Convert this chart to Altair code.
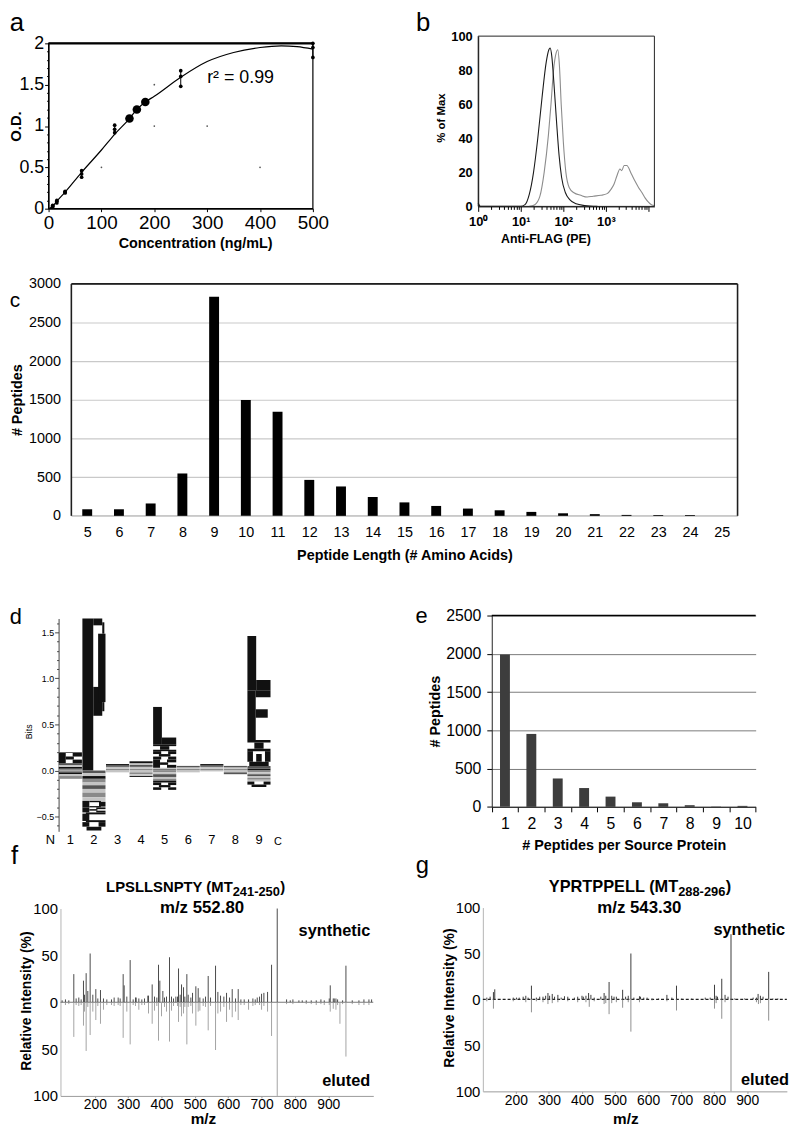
import altair as alt
import numpy as np
import pandas as pd

FONT = "Liberation Sans"
W, H = 792, 1122   # whole figure (page minus the 8px body margin)

# ---------------- data ----------------
# a: ELISA standard curve
a_conc = [7.8, 15.6, 31.25, 62.5, 125, 250, 500]
a_rep1 = [0.02, 0.07, 0.19, 0.38, 0.92, 1.48, 1.83]
a_rep2 = [0.03, 0.09, 0.20, 0.42, 0.96, 1.60, 1.95]
a_rep3 = [0.04, 0.10, 0.21, 0.46, 1.01, 1.67, 2.00]
a_unk_conc = [153, 167, 183]
a_unk_od = [1.09, 1.20, 1.29]
a_fit_conc = [0, 7.8, 15.6, 31.25, 62.5, 100, 125, 153, 167, 183, 200, 250, 300, 350, 400, 440, 470, 500]
a_fit_od = [0.0, 0.03, 0.09, 0.20, 0.44, 0.71, 0.90, 1.09, 1.20, 1.29, 1.36, 1.59, 1.78, 1.89, 1.95, 1.97, 1.96, 1.93]
a_mark_conc = [100, 200, 300, 200, 400]
a_mark_od = [0.5, 1.0, 1.0, 1.5, 0.5]

# b: flow cytometry histograms (x = log10 fluorescence)
b_ctrl_log = [0.0, 0.03, 0.06, 1.0, 1.1, 1.2, 1.3, 1.4, 1.5, 1.6, 1.66, 1.69, 1.73, 1.78, 1.84, 1.9, 1.96, 2.05, 2.15, 2.3, 2.5, 2.8]
b_ctrl_pct = [2, 0.5, 0, 0, 1, 7, 20, 40, 64, 85, 92, 93, 88, 72, 50, 30, 17, 8, 4, 1.5, 0.5, 0]
b_flag_log = [1.2, 1.33, 1.45, 1.55, 1.65, 1.71, 1.77, 1.83, 1.87, 1.91, 1.95, 2.0, 2.06, 2.14, 2.25, 2.41,
              2.56, 2.7, 2.88, 3.03, 3.12, 3.19, 3.26, 3.33, 3.37, 3.43, 3.49, 3.6, 3.68, 3.77, 3.85, 3.92,
              4.0, 4.07, 4.14]
b_flag_pct = [0, 1, 6, 20, 42, 60, 80, 90, 92, 82, 60, 38, 20, 11, 8, 6.5, 5.5, 6, 6.5, 7.5, 10, 13, 18,
              22, 21, 24, 24, 19, 15, 11, 8, 5, 2.5, 1, 0.5]

# c: peptide length distribution
c_length = list(range(5, 26))
c_count = [85, 85, 160, 548, 2835, 1500, 1346, 465, 380, 244, 174, 128, 94, 72, 51, 33, 22, 12, 10, 10, 0]

# d: sequence logo, one list per position (residue, bits, tone), stacked outward from 0
logo_1 = [("#", 0.02, "g"), ("#", 0.02, "k"), ("#", 0.02, "l"), ("#", 0.02, "d"), ("K", 0.11, "k"), ("#", 0.01, "d"),
          ("#", -0.02, "g"), ("#", -0.02, "k"), ("#", -0.02, "l"), ("#", -0.03, "g")]
logo_2 = [("P", 1.65, "k"),
          ("#", -0.03, "d"), ("#", -0.03, "l"), ("#", -0.03, "k"), ("#", -0.04, "g"), ("#", -0.03, "l"),
          ("#", -0.04, "d"), ("#", -0.04, "l"), ("#", -0.05, "g"), ("#", -0.04, "l"),
          ("D", -0.07, "k"), ("K", -0.055, "k"), ("C", -0.105, "k"), ("V", -0.09, "k")]
logo_3 = [("#", 0.02, "g"), ("#", 0.02, "l"), ("#", 0.015, "d"), ("#", 0.015, "k"), ("#", -0.02, "l")]
logo_4 = [("#", 0.02, "g"), ("#", 0.02, "l"), ("#", 0.02, "d"), ("#", 0.02, "l"), ("#", 0.02, "k"),
          ("#", -0.02, "l"), ("#", -0.02, "g"), ("#", -0.02, "l"), ("#", -0.01, "k")]
logo_5 = [("#", 0.015, "d"), ("#", 0.015, "l"), ("K", 0.09, "k"), ("X", 0.09, "k"), ("I", 0.07, "k"), ("L", 0.41, "k"),
          ("#", -0.02, "g"), ("#", -0.02, "l"), ("#", -0.03, "d"), ("#", -0.02, "l"), ("#", -0.02, "g"),
          ("#", -0.02, "k"), ("X", -0.08, "k")]
logo_6 = [("#", 0.02, "g"), ("#", 0.015, "l"), ("#", 0.015, "d"), ("#", -0.02, "l")]
logo_7 = [("#", 0.02, "g"), ("#", 0.02, "l"), ("#", 0.015, "d"), ("#", 0.015, "k"), ("#", -0.01, "l")]
logo_8 = [("#", 0.02, "g"), ("#", 0.015, "l"), ("#", 0.015, "d"), ("#", -0.02, "l"), ("#", -0.02, "d")]
logo_9 = [("#", 0.02, "k"), ("#", 0.03, "d"), ("W", 0.16, "k"), ("I", 0.12, "k"), ("F", 0.54, "k"), ("L", 0.59, "k"),
          ("#", -0.02, "g"), ("#", -0.02, "l"), ("#", -0.02, "d"), ("#", -0.02, "l"), ("#", -0.02, "g"),
          ("#", -0.02, "l"), ("V", -0.06, "k")]
logo_columns = [logo_1, logo_2, logo_3, logo_4, logo_5, logo_6, logo_7, logo_8, logo_9]
d_tick_pos = [0.15, 1, 2, 3, 4, 5, 6, 7, 8, 9]
d_tick_text = ["N", "1", "2", "3", "4", "5", "6", "7", "8", "9"]
d_c_pos = [9.8]
d_c_text = ["C"]

# e: peptides per source protein
e_per_protein = list(range(1, 11))
e_count = [1990, 953, 371, 246, 134, 60, 47, 22, 4, 13]

# f: LPSLLSNPTY spectra
f_syn_mz = [137, 166, 174, 186, 203, 217, 285, 288, 306, 324, 359, 372, 391, 395, 404, 424, 443, 451, 460, 466,
            476, 493, 503, 510, 540, 562, 569, 595, 612, 630, 687, 700, 707, 718, 730, 747, 906, 915, 923, 953,
            102, 112, 122, 144, 152, 159, 169, 179, 194, 209, 226, 236, 250, 258, 270, 276, 296, 315, 322, 332,
            341, 349, 361, 379, 386, 409, 415, 430, 436, 448, 456, 470, 480, 488, 515, 525, 532, 547, 577, 587,
            604, 622, 638, 648, 661, 674, 681, 694, 775, 786, 794, 812, 822, 834, 849, 864, 878, 888, 903, 918,
            928, 943, 972, 992, 1007, 1022, 1030]
f_syn_int = [30, 23, 31, 52, 14, 13, 30, 18, 45, 5, 7, 19, 40, 23, 12, 48, 6, 36, 19, 16,
             30, 10, 17, 15, 28, 39, 11, 10, 14, 14, 5, 9, 10, 11, 40, 100, 18, 4, 4, 39,
             2, 3, 2, 4, 5, 3, 8, 12, 8, 4, 4, 3, 3, 5, 5, 4, 6, 3, 5, 4,
             3, 4, 7, 6, 5, 5, 6, 6, 4, 6, 8, 6, 8, 5, 5, 4, 6, 5, 7, 6,
             5, 4, 3, 3, 3, 4, 3, 6, 3, 2, 3, 2, 2, 2, 2, 2, 3, 2, 4, 4,
             3, 2, 2, 2, 3, 3, 3]
f_elu_mz = [137, 166, 174, 186, 203, 217, 285, 306, 372, 391, 424, 451, 476, 503, 540, 562, 595, 612, 630, 730,
            747, 935, 953,
            169, 194, 226, 296, 332, 361, 379, 400, 415, 430, 460, 466, 493, 510, 515, 569, 577, 604, 622, 661,
            700, 718, 906, 915, 923,
            112, 122, 144, 152, 159, 179, 209, 236, 250, 258, 270, 276, 315, 322, 341, 349, 386, 409, 436, 448,
            456, 470, 480, 488, 525, 532, 547, 587, 638, 648, 674, 681, 694, 707, 775, 794, 834, 849, 864, 878,
            888, 903, 928, 943, 972, 992, 1007, 1022]
f_elu_int = [-37, -25, -52, -35, -19, -23, -38, -45, -23, -41, -42, -21, -45, -25, -30, -51, -21, -16, -19, -36,
             -100, -23, -58,
             -10, -10, -8, -10, -8, -12, -9, -15, -10, -9, -15, -12, -12, -10, -9, -12, -10, -8, -10, -8,
             -8, -10, -10, -7, -8,
             -3, -2, -3, -4, -3, -5, -4, -3, -3, -4, -3, -4, -3, -4, -3, -3, -4, -5, -4, -4,
             -5, -5, -5, -4, -4, -5, -4, -5, -3, -3, -4, -3, -3, -4, -2, -2, -2, -2, -3, -2,
             -3, -3, -3, -2, -2, -3, -3, -3]

# g: YPRTPPELL spectra
g_syn_mz = [132, 136, 247, 297, 310, 327, 347, 400, 420, 467, 482, 523, 548, 574, 657, 686, 801, 806, 823, 833,
            851, 933, 965,
            112, 122, 192, 202, 210, 222, 230, 237, 262, 272, 282, 290, 302, 317, 337, 357, 377, 387, 404, 412,
            427, 437, 457, 472, 490, 497, 504, 532, 540, 557, 577, 587, 597, 612, 632, 672, 702, 732, 773, 788,
            810, 842, 862, 892, 918, 928, 940, 948, 978, 993]
g_syn_int = [8, 11, 15, 7, 6, 5, 3.5, 4, 7, 7, 19, 10.5, 50, 3.5, 5, 15, 16, 4, 22.5, 5,
             71, 6, 30,
             2, 3, 2, 2, 2, 3, 4, 2, 2, 3, 3, 4, 4, 3, 2, 3, 2, 3, 3, 4,
             5, 2, 3, 4, 4, 3, 3, 3, 4, 2, 3, 2, 2, 1, 1, 2, 1, 1, 2, 2,
             3, 3, 1, 1, 2, 2, 4, 3, 1, 1]
g_elu_mz = [132, 247, 297, 422, 482, 523, 548, 686, 801, 823, 851, 934, 965,
            112, 192, 230, 262, 282, 310, 327, 357, 387, 412, 437, 467, 472, 490, 504, 540, 574, 612, 657, 806,
            833, 928, 940]
g_elu_int = [-10, -14, -5, -8, -16, -9, -35, -12, -10, -21, -100, -5, -23,
             -2, -2, -3, -2, -3, -4, -3, -2, -3, -3, -2, -5, -4, -4, -3, -3, -3, -1, -2, -4,
             -3, -3, -4]

# ---------------- helpers ----------------
MAJOR_HALF = "abs(datum.value*2 - round(datum.value*2)) < 0.001"
MAJOR_INT = "abs(datum.value - round(datum.value)) < 0.001"


def y_axis(x0, values, title, tx, ty, **kw):
    return alt.Axis(orient="left", offset=-x0, values=values, title=title, titleX=tx - x0, titleY=ty,
                    titleAngle=270, titleAlign="center", titleBaseline="middle", **kw)


def x_axis(y0, values, title, tx, ty, **kw):
    return alt.Axis(orient="bottom", offset=y0 - H, values=values, title=title, titleX=tx, titleY=ty - y0,
                    titleAlign="center", titleBaseline="middle", **kw)


def sc(domain, rng):
    return alt.Scale(domain=domain, range=rng, nice=False, zero=False, padding=0)


def note(text, x, y, size, weight="normal", align="center", color="black"):
    return alt.Chart(pd.DataFrame({"t": [text]})).mark_text(
        font=FONT, fontSize=size, fontWeight=weight, align=align, baseline="middle", color=color
    ).encode(x=alt.value(x), y=alt.value(y), text="t:N")


# ---------------- panel a ----------------
xa = sc([0, 500], [41, 308])
ya = sc([0, 2], [197, 30])
a_yvals = [round(v, 1) for v in np.arange(0, 2.001, 0.1)]
AXa = x_axis(197, [0, 100, 200, 300, 400, 500], "Concentration (ng/mL)", 189, 232,
             labelFontSize=19, titleFontSize=14.5, titleFontWeight="bold", tickSize=3, labelPadding=2, format="d")
AYa = y_axis(41, a_yvals, "O.D.", 8, 113.5, labelFontSize=18, titleFontSize=15, titleFontWeight="bold",
             format="~g", labelExpr=f"{MAJOR_HALF} ? datum.label : ''",
             tickSize={"condition": {"test": MAJOR_HALF, "value": 4}, "value": 2}, labelPadding=1)


def enc_a(chart, xf, yf, **extra):
    return chart.encode(x=alt.X(xf, scale=xa, axis=AXa), y=alt.Y(yf, scale=ya, axis=AYa), **extra)


a_fit = enc_a(alt.Chart(pd.DataFrame({"c": a_fit_conc, "od": a_fit_od})).mark_line(
    color="black", strokeWidth=1.2, interpolate="monotone"), "c:Q", "od:Q")
a_err_df = pd.DataFrame({"c": a_conc,
                         "lo": [min(t) for t in zip(a_rep1, a_rep2, a_rep3)],
                         "hi": [max(t) for t in zip(a_rep1, a_rep2, a_rep3)]})
a_err = enc_a(alt.Chart(a_err_df).mark_rule(color="black", strokeWidth=1), "c:Q", "lo:Q", y2="hi:Q")
a_pts = enc_a(alt.Chart(pd.DataFrame({"c": a_conc * 3, "od": a_rep1 + a_rep2 + a_rep3})).mark_point(
    filled=True, color="black", size=14, opacity=1), "c:Q", "od:Q")
a_unk = enc_a(alt.Chart(pd.DataFrame({"c": a_unk_conc, "od": a_unk_od})).mark_point(
    filled=True, color="black", size=75, opacity=1), "c:Q", "od:Q")
a_marks = enc_a(alt.Chart(pd.DataFrame({"c": a_mark_conc, "od": a_mark_od})).mark_point(
    filled=True, color="#555", size=3, opacity=1), "c:Q", "od:Q")
a_frame = enc_a(alt.Chart(pd.DataFrame({"x0": [0], "x1": [500], "y0": [0], "y1": [2]})).mark_rect(
    fillOpacity=0, stroke="black", strokeWidth=1.2), "x0:Q", "y0:Q", x2="x1:Q", y2="y1:Q")
a_top = enc_a(alt.Chart(pd.DataFrame({"x0": [0], "x1": [500], "y0": [2]})).mark_rule(
    color="black", strokeWidth=2.5), "x0:Q", "y0:Q", x2="x1:Q")
a_r2 = enc_a(alt.Chart(pd.DataFrame({"c": [300], "od": [1.585], "t": ["r² = 0.99"]})).mark_text(
    font=FONT, fontSize=18, align="left", baseline="middle", color="black"), "c:Q", "od:Q", text="t:N")
panel_a = alt.layer(a_fit, a_err, a_pts, a_unk, a_marks, a_frame, a_top, a_r2)

# ---------------- panel b ----------------
xb = sc([0, 4.14], [475, 653])
yb = sc([0, 100], [194.7, 22.7])
b_xvals = sorted({round(float(np.log10(k * 10 ** d)), 4) for d in range(4) for k in range(1, 10)} | {4.0})
b_lab = ("datum.value == 0 ? '10⁰' : datum.value == 1 ? '10¹' : datum.value == 2 ? '10²' : "
         "datum.value == 3 ? '10³' : ''")
AXb = x_axis(194.7, b_xvals, "Anti-FLAG (PE)", 543, 227.6, labelExpr=b_lab, labelFontSize=13,
             labelFontWeight="bold", titleFontSize=12.5, titleFontWeight="bold", labelPadding=4,
             tickSize={"condition": {"test": MAJOR_INT, "value": 5}, "value": 3})
AYb = y_axis(475, [0, 20, 40, 60, 80, 100], "% of Max", 438, 105, labelFontSize=13, labelFontWeight="bold",
             titleFontSize=11.5, titleFontWeight="bold", tickSize=0, labelPadding=6)
b_df = pd.DataFrame({"lx": b_ctrl_log + b_flag_log, "pct": b_ctrl_pct + b_flag_pct,
                     "s": ["ctrl"] * len(b_ctrl_log) + ["flag"] * len(b_flag_log)})
b_flag = alt.Chart(b_df).transform_filter("datum.s == 'flag'").mark_line(
    color="#8c8c8c", strokeWidth=1.1, interpolate="monotone").encode(
    x=alt.X("lx:Q", scale=xb, axis=AXb), y=alt.Y("pct:Q", scale=yb, axis=AYb))
b_ctrl = alt.Chart(b_df).transform_filter("datum.s == 'ctrl'").mark_line(
    color="#1a1a1a", strokeWidth=1.1, interpolate="monotone").encode(
    x=alt.X("lx:Q", scale=xb, axis=AXb), y=alt.Y("pct:Q", scale=yb, axis=AYb))
b_frame = alt.Chart(pd.DataFrame({"x0": [0], "x1": [4.14], "y0": [0], "y1": [100]})).mark_rect(
    fillOpacity=0, stroke="#222", strokeWidth=1).encode(
    x=alt.X("x0:Q", scale=xb, axis=AXb), x2="x1:Q", y=alt.Y("y0:Q", scale=yb, axis=AYb), y2="y1:Q")
panel_b = alt.layer(b_flag, b_ctrl, b_frame)

# ---------------- panel c ----------------
xc = sc([4.5, 25.5], [64, 737])
yc = sc([0, 3000], [507.3, 273])
AXc = x_axis(507.3, c_length, "Peptide Length (# Amino Acids)", 400.5, 547, labelFontSize=14.5,
             titleFontSize=14.5, titleFontWeight="bold", domain=False, ticks=False, labelPadding=10)
AYc = y_axis(64, [0, 500, 1000, 1500, 2000, 2500, 3000], "# Peptides", 9.5, 390, labelFontSize=14.5,
             titleFontSize=14.5, titleFontWeight="bold", domain=False, ticks=False, labelPadding=11, grid=True,
             gridColor="#c9c9c9", gridWidth=1.2, format="d")
c_bars = alt.Chart(pd.DataFrame({"len": c_length, "n": c_count})).mark_bar(size=10, color="black").encode(
    x=alt.X("len:Q", scale=xc, axis=AXc), y=alt.Y("n:Q", scale=yc, axis=AYc))
c_base = alt.Chart(pd.DataFrame({"x0": [4.5], "x1": [25.5], "y0": [0]})).mark_rule(
    color="#c9c9c9", strokeWidth=1.5).encode(
    x=alt.X("x0:Q", scale=xc, axis=AXc), x2="x1:Q", y=alt.Y("y0:Q", scale=yc, axis=AYc))
c_frame = alt.Chart(pd.DataFrame({"x0": [4.5, 4.5, 25.5], "x1": [25.5, 4.5, 25.5],
                                  "y0": [3000, 0, 0], "y1": [3000, 3000, 3000]})).mark_rule(
    color="#1e1e1e", strokeWidth=1.6).encode(
    x=alt.X("x0:Q", scale=xc, axis=AXc), x2="x1:Q", y=alt.Y("y0:Q", scale=yc, axis=AYc), y2="y1:Q")
panel_c = alt.layer(c_base, c_bars, c_frame)

# ---------------- panel d ----------------
GLYPHS = {
    "P": [(0, 0.47, 0, 1), (0.47, 0.86, 0.955, 1), (0.47, 0.86, 0.36, 0.55), (0.68, 1, 0.45, 0.9),
          (0.86, 0.95, 0.9, 0.975), (0.86, 0.95, 0.39, 0.45)],
    "L": [(0, 0.38, 0, 1), (0.38, 1, 0, 0.19)],
    "F": [(0, 0.36, 0, 1), (0.36, 1, 0.86, 1), (0.36, 0.88, 0.45, 0.62)],
    "I": [(0, 1, 0.78, 1), (0.3, 0.7, 0.22, 0.78), (0, 1, 0, 0.22)],
    "W": [(0, 0.24, 0.28, 1), (0.38, 0.62, 0.28, 0.8), (0.76, 1, 0.28, 1), (0.08, 0.92, 0, 0.28)],
    "K": [(0, 0.3, 0, 1), (0.3, 0.65, 0.35, 0.65), (0.6, 1, 0.65, 1), (0.6, 1, 0, 0.35)],
    "V": [(0, 0.3, 0.45, 1), (0.7, 1, 0.45, 1), (0.18, 0.82, 0, 0.45)],
    "X": [(0, 0.35, 0.65, 1), (0.65, 1, 0.65, 1), (0.25, 0.75, 0.35, 0.65), (0, 0.35, 0, 0.35),
          (0.65, 1, 0, 0.35)],
    "C": [(0, 0.3, 0.12, 0.88), (0.15, 1, 0.8, 1), (0.15, 1, 0, 0.2)],
    "D": [(0, 0.3, 0, 1), (0.3, 0.8, 0.8, 1), (0.3, 0.8, 0, 0.2), (0.72, 1, 0.12, 0.88)],
    "#": [(0, 1, 0, 1)],
}
TONES = {"k": "#111111", "d": "#555555", "g": "#8a8a8a", "l": "#c4c4c4"}
rows = []
for pos, column in enumerate(logo_columns, start=1):
    up, down = 0.0, 0.0
    for res, bits, tone in column:
        if bits >= 0:
            lo, hi = up, up + bits
            up = hi
        else:
            lo, hi = down + bits, down
            down = lo
        for gx0, gx1, gy0, gy1 in GLYPHS[res]:
            rows.append({"x0": pos - 0.49 + 0.98 * gx0, "x1": pos - 0.49 + 0.98 * gx1,
                         "y0": lo + (hi - lo) * gy0, "y1": lo + (hi - lo) * gy1, "tone": TONES[tone]})
xd = sc([0.5, 10.2], [51.1, 282.1])
yd = sc([-0.66, 1.65], [826, 611])
d_yvals = [round(v, 1) for v in np.arange(-0.6, 1.601, 0.1)]
AYd = y_axis(51.1, d_yvals, "Bits", 21, 725, format=".1f", labelExpr=f"{MAJOR_HALF} ? datum.label : ''",
             tickSize={"condition": {"test": MAJOR_HALF, "value": 4}, "value": 2}, labelFontSize=9,
             titleFontSize=9, titleFontWeight="normal", labelPadding=1, domainColor="#444", tickColor="#444")
d_logo = alt.Chart(pd.DataFrame(rows)).mark_rect().encode(
    x=alt.X("x0:Q", scale=xd, axis=None), x2="x1:Q",
    y=alt.Y("y0:Q", scale=yd, axis=AYd), y2="y1:Q", color=alt.Color("tone:N", scale=None))
d_lab = alt.Chart(pd.DataFrame({"p": d_tick_pos, "t": d_tick_text})).mark_text(
    font=FONT, fontSize=13, baseline="middle", color="black").encode(
    x=alt.X("p:Q", scale=xd, axis=None), y=alt.value(835), text="t:N")
d_labc = alt.Chart(pd.DataFrame({"p": d_c_pos, "t": d_c_text})).mark_text(
    font=FONT, fontSize=11, baseline="middle", color="black").encode(
    x=alt.X("p:Q", scale=xd, axis=None), y=alt.value(837), text="t:N")
panel_d = alt.layer(d_logo, d_lab, d_labc)

# ---------------- panel e ----------------
xe = sc([0.5, 10.5], [488.7, 755.3])
ye = sc([0, 2500], [801.3, 608])
e_xvals = [v / 2 for v in range(1, 22)]
AXe = x_axis(801.3, e_xvals, "# Peptides per Source Protein", 622, 840, format="~g",
             labelExpr=f"{MAJOR_INT} ? datum.label : ''",
             tickOpacity={"condition": {"test": MAJOR_INT, "value": 0}, "value": 1},
             tickSize=5, labelPadding=4, labelFontSize=16, titleFontSize=14.5, titleFontWeight="bold",
             domainColor="#222")
AYe = y_axis(488.7, [0, 500, 1000, 1500, 2000, 2500], "# Peptides", 432, 704.6, tickSize=5, labelPadding=6,
             labelFontSize=16, titleFontSize=14.5, titleFontWeight="bold", grid=True, gridColor="#7a7a7a",
             domainColor="#222", format="d")
e_bars = alt.Chart(pd.DataFrame({"k": e_per_protein, "n": e_count})).mark_bar(size=10, color="#3d3d3d").encode(
    x=alt.X("k:Q", scale=xe, axis=AXe), y=alt.Y("n:Q", scale=ye, axis=AYe))
e_top = alt.Chart(pd.DataFrame({"x0": [0.5], "x1": [10.5], "y0": [2500]})).mark_rule(
    color="black", strokeWidth=1.5).encode(
    x=alt.X("x0:Q", scale=xe, axis=AXe), x2="x1:Q", y=alt.Y("y0:Q", scale=ye, axis=AYe))
panel_e = alt.layer(e_bars, e_top)


# ---------------- panels f, g ----------------
def spectrum(syn_mz, syn_int, elu_mz, elu_int, dom, xr, yr, x0, y0, ytx, yty, xtx, xty,
             zero_color, zero_dash, syn_color, elu_color):
    xs = sc(dom, xr)
    ys = sc([-100, 100], yr)
    ax = x_axis(y0, [200, 300, 400, 500, 600, 700, 800, 900], "m/z", xtx, xty, labelFontSize=14,
                titleFontSize=15.5, titleFontWeight="bold", tickSize=2, labelPadding=0, domainColor="#9a9a9a",
                tickColor="#9a9a9a")
    ay = y_axis(x0, [-100, -50, 0, 50, 100], "Relative Intensity (%)", ytx, yty,
                labelExpr="'' + abs(datum.value)", labelFontSize=15, titleFontSize=14, titleFontWeight="bold",
                tickSize=0, labelPadding=3, domainColor="#b5b5b5")
    zero_df = pd.DataFrame({"x0": [dom[0]], "x1": [dom[1]], "y0": [0]})
    zero_kw = {"strokeDash": zero_dash} if zero_dash else {}
    base = alt.Chart(zero_df).mark_rule(color=zero_color, strokeWidth=1.2, **zero_kw).encode(
        x=alt.X("x0:Q", scale=xs, axis=ax), x2="x1:Q", y=alt.Y("y0:Q", scale=ys, axis=ay))
    elu = alt.Chart(pd.DataFrame({"mz": elu_mz, "v": elu_int, "z": 0})).mark_rule(
        color=elu_color, strokeWidth=1).encode(
        x=alt.X("mz:Q", scale=xs, axis=ax), y=alt.Y("z:Q", scale=ys, axis=ay), y2="v:Q")
    syn = alt.Chart(pd.DataFrame({"mz": syn_mz, "v": syn_int, "z": 0})).mark_rule(
        color=syn_color, strokeWidth=1).encode(
        x=alt.X("mz:Q", scale=xs, axis=ax), y=alt.Y("z:Q", scale=ys, axis=ay), y2="v:Q")
    return alt.layer(base, elu, syn)


panel_f = spectrum(f_syn_mz, f_syn_int, f_elu_mz, f_elu_int, [97, 1035], [53, 369], [1093.3, 904],
                   53, 1093.3, 19, 997, 197, 1116.5, "#7a7a7a", None, "#4a4a4a", "#a3a3a3")
panel_g = spectrum(g_syn_mz, g_syn_int, g_elu_mz, g_elu_int, [100, 1020], [479.7, 786.8], [1088.7, 903],
                   479.7, 1088.7, 446.5, 994, 623.7, 1116, "#222222", [3, 2], "#3c3c3c", "#8f8f8f")

# ---------------- text annotations ----------------
notes = [
    note("a", 9, 10, 26), note("b", 419.5, 10, 26), note("c", 7, 290, 21),
    note("d", 8, 610, 22), note("e", 417.8, 609, 22), note("f", 3, 851, 26, align="left"),
    note("g", 418.5, 861, 24),
    note("LPSLLSNPTY (MT", 227, 882, 15, "bold", "right"),
    note("241-250", 227, 887, 13, "bold", "left"),
    note(")", 275, 882, 15, "bold", "left"),
    note("m/z 552.80", 196, 903.5, 17, "bold"),
    note("synthetic", 366, 927, 16.5, "bold", "right"),
    note("eluted", 366, 1078.7, 16.5, "bold", "right"),
    note("YPRTPPELL (MT", 677, 882, 16.5, "bold", "right"),
    note("288-296", 677, 887, 13, "bold", "left"),
    note(")", 725, 882, 16.5, "bold", "left"),
    note("m/z 543.30", 637.8, 903.7, 17, "bold"),
    note("synthetic", 785, 926, 16.5, "bold", "right"),
    note("eluted", 789, 1077, 16.5, "bold", "right"),
]

chart = alt.layer(panel_a, panel_b, panel_c, panel_d, panel_e, panel_f, panel_g, *notes).resolve_scale(
    x="independent", y="independent"
).properties(
    width=W, height=H, padding=0, autosize=alt.AutoSizeParams(type="none")
).configure_view(
    strokeWidth=0
).configure_axis(
    labelFont=FONT, titleFont=FONT, labelColor="black", titleColor="black", domainColor="black",
    tickColor="black", labelFlush=False, labelOverlap=False, grid=False
).configure_text(font=FONT)

chart.save("out.html", embed_options={"renderer": "svg", "actions": False})
